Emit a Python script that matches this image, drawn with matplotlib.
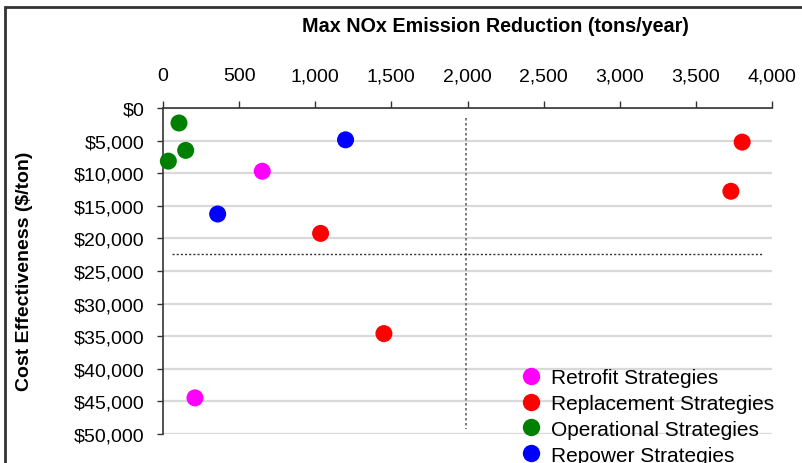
import matplotlib
matplotlib.use("Agg")
import matplotlib.pyplot as plt
from matplotlib.patches import Rectangle
from matplotlib.ticker import FuncFormatter
from matplotlib.lines import Line2D

plt.rcParams['font.family'] = ['Liberation Sans', 'DejaVu Sans']

# Data (tons/year, $/ton)
retrofit_x = [652, 210]
retrofit_y = [9700, 44460]
replacement_x = [3804, 3730, 1035, 1451]
replacement_y = [5230, 12770, 19230, 34600]
operational_x = [105, 149, 35]
operational_y = [2300, 6500, 8150]
repower_x = [359, 1199]
repower_y = [16260, 4880]

series_names = ["Retrofit Strategies", "Replacement Strategies",
                "Operational Strategies", "Repower Strategies"]
series_colors = ["#FF00FF", "#FF0000", "#008000", "#0000FF"]

x_ticks = [0, 500, 1000, 1500, 2000, 2500, 3000, 3500, 4000]
y_ticks = [0, 5000, 10000, 15000, 20000, 25000, 30000, 35000, 40000, 45000, 50000]

# reference (threshold) lines
vline_x = 1990
vline_y_range = [1500, 49200]
hline_y = 22400
hline_x_range = [57, 3937]

fig = plt.figure(figsize=(8.03, 4.64), dpi=100)
ax = fig.add_axes([163/803, 1-435/464, (772-163)/803, (435-109)/464])

ax.set_xlim(0, 4000)
ax.set_ylim(50000, 0)

ax.yaxis.grid(True, color="#d9d9d9", linewidth=1.6)
ax.set_axisbelow(True)

series = [(retrofit_x, retrofit_y), (replacement_x, replacement_y),
          (operational_x, operational_y), (repower_x, repower_y)]
for (xs, ys), name, col in zip(series, series_names, series_colors):
    ax.scatter(xs, ys, s=150, color=col, edgecolors='none', label=name, zorder=3, clip_on=False)

ax.plot([vline_x, vline_x], vline_y_range, color="#666666", linestyle=(0, (1.5, 1.5)), linewidth=1.2, zorder=2)
ax.plot(hline_x_range, [hline_y, hline_y], color="#333333", linestyle=(0, (1.5, 1.5)), linewidth=1.0, zorder=2)

ax.xaxis.tick_top()
ax.set_xticks(x_ticks)
ax.set_yticks(y_ticks)
ax.xaxis.set_major_formatter(FuncFormatter(lambda v, p: f"{int(v):,}"))
ax.yaxis.set_major_formatter(FuncFormatter(lambda v, p: f"${int(v):,}"))
ax.tick_params(axis='x', which='major', direction='out', length=5, width=1, color="#333333",
               labelsize=14, pad=12, top=True, bottom=False)
ax.tick_params(axis='y', which='major', direction='out', length=4.5, width=1, color="#333333",
               labelsize=14, pad=9)
for sp in ['right', 'bottom']:
    ax.spines[sp].set_visible(False)
for sp in ['left', 'top']:
    ax.spines[sp].set_color("#333333")
    ax.spines[sp].set_linewidth(1.2)

fig.text(495/803, 1-26/464, "Max NOx Emission Reduction (tons/year)", fontsize=14.2,
         fontweight='bold', ha='center', va='center')
fig.text(25/803, 1-271/464, "Cost Effectiveness ($/ton)", fontsize=14,
         fontweight='bold', ha='center', va='center', rotation=90)

handles = [Line2D([], [], marker='o', linestyle='none', markersize=12.5,
                  markerfacecolor=c, markeredgecolor='none') for c in series_colors]
fig.legend(handles, series_names, loc='upper left', bbox_to_anchor=(521/803, 1-369/464),
           frameon=False, fontsize=15, handlelength=1.0, handletextpad=0.45,
           labelspacing=0.33, borderpad=0, borderaxespad=0)

fig.add_artist(Rectangle((5.5/803, -0.1), 1.2, 0.1 + (1-7.5/464), transform=fig.transFigure,
                         fill=False, edgecolor="#333333", linewidth=2))

fig.savefig("out.png", dpi=100)
